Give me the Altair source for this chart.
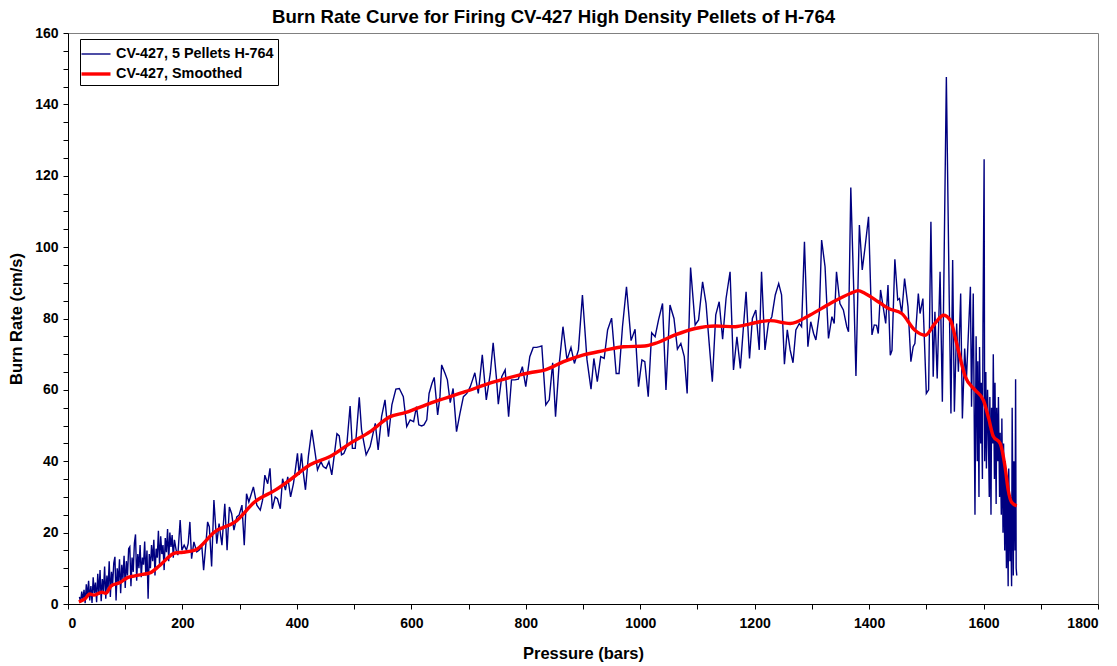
import altair as alt
import pandas as pd

series_names = ["CV-427, 5 Pellets H-764", "CV-427, Smoothed"]

raw_p = [
    20, 22, 24, 26, 28, 30, 32, 34, 36, 38, 40, 42, 44, 46, 48, 50, 52, 54, 56, 58,
    60, 62, 64, 66, 68, 70, 72, 74, 76, 78, 80, 82, 84, 86, 88, 90, 92, 94, 96, 98,
    100, 102, 104, 106, 108, 110, 112, 114, 116, 118, 120, 122, 124, 126, 128, 130,
    132, 134, 136, 138, 140, 142, 144, 146, 148, 150, 152, 154, 156, 158, 160, 162,
    164, 166, 168, 170, 172, 174, 176, 178, 180, 182, 184, 186,
    189, 192, 196, 199, 203, 207, 210, 213, 216, 220, 225, 229, 234, 237, 241, 244,
    247, 251, 255, 260, 264, 269, 274, 278, 282, 286, 290, 295, 299, 304, 308, 312,
    316, 324, 330, 336, 340, 344, 349, 353, 357, 362, 366, 371, 375, 380, 384, 389,
    394, 398,
    401, 404, 408, 411, 415, 420, 426, 432, 436, 442, 446, 451, 456, 461, 465, 470,
    474, 478, 482, 487, 493, 497, 502, 509, 513, 521, 528, 537, 542, 548, 554, 560,
    566, 573, 579, 586, 592, 598, 604,
    609, 613, 618, 622, 627, 631, 636, 640, 646, 650, 653, 659, 663, 668, 673, 679,
    685, 691, 697, 703, 707, 711, 717, 724, 731, 738, 743, 749, 752, 758, 764, 770,
    775, 781, 787, 794, 800, 807,
    813, 819, 824, 828, 835, 841, 847, 852, 858, 865, 872, 879, 885, 892, 899, 907,
    914, 919, 925, 931, 937, 943, 950, 958, 963, 969, 976, 984, 991, 997, 1003, 1008,
    1014, 1020, 1026, 1032, 1039, 1045, 1052, 1059, 1065, 1071, 1077, 1082, 1088,
    1096, 1102, 1109, 1115, 1120, 1126, 1132, 1138, 1144, 1150, 1157, 1163, 1169,
    1175, 1180, 1185, 1191, 1196, 1202, 1208,
    1212, 1218, 1224, 1230, 1236, 1242, 1247, 1252, 1257, 1262, 1267, 1272, 1278,
    1282, 1287, 1293, 1298, 1303, 1307, 1313, 1317, 1323, 1329, 1335, 1339, 1343,
    1349, 1355, 1361, 1364, 1368, 1373, 1377, 1383, 1388, 1393, 1399, 1405, 1409,
    1413, 1416, 1420, 1425, 1429, 1433, 1437, 1440, 1445, 1450, 1453, 1457, 1462,
    1468, 1473, 1477, 1480, 1486, 1489, 1494, 1500, 1504, 1508, 1512, 1515, 1519,
    1524, 1528, 1535, 1540, 1543, 1546, 1549, 1553, 1556, 1560, 1563, 1567, 1570,
    1572, 1577, 1579, 1582, 1585,
    1587, 1589, 1590, 1592, 1593, 1595, 1596, 1598, 1599, 1601, 1602, 1604, 1605,
    1607, 1608, 1610, 1611, 1613, 1614, 1616, 1617, 1619, 1620, 1622, 1623, 1625,
    1626, 1628, 1629, 1631, 1632, 1634, 1635, 1637, 1638, 1640, 1641, 1643, 1644,
    1646, 1647, 1649, 1650, 1652, 1653, 1655, 1656, 1657, 1658,
]

raw_r = [
    2.0, 0.5, 3.5, 1.0, 4.0, 0.2, 5.5, 2.0, 6.5, 1.0, 5.0, 0.3, 7.5, 3.0, 6.0, 0.5, 8.5, 2.5, 9.5, 0.8,
    7.0, 3.5, 10.5, 1.5, 8.0, 4.0, 12.0, 2.0, 9.0, 5.5, 11.5, 13.2, 1.0, 10.0, 6.0, 12.5, 3.0, 11.0, 7.0, 13.5,
    4.5, 12.0, 8.0, 15.5, 16.0, 5.0, 13.0, 9.0, 17.0, 19.5, 6.5, 14.0, 10.0, 16.5, 7.5, 13.0,
    11.0, 17.5, 8.0, 15.0, 1.5, 14.0, 10.0, 16.5, 12.0, 18.0, 8.0, 15.5, 13.0, 20.5, 11.0, 19.0,
    14.0, 16.5, 9.5, 18.5, 14.5, 21.0, 12.0, 20.0, 16.0, 19.3, 13.0, 18.0,
    15.1, 13.7, 23.5, 15.1, 16.5, 15.1, 16.9, 23.0, 12.7, 17.4, 14.6, 15.1, 16.0, 9.5, 16.9, 23.0,
    21.6, 10.5, 29.1, 16.9, 22.5, 16.5, 28.1, 15.1, 27.2, 25.3, 20.7, 24.4, 24.9, 27.7, 16.5, 30.9,
    28.6, 32.8, 27.7, 26.3, 29.1, 36.1, 33.7, 38.0, 26.7, 30.0, 29.5, 26.7, 35.1, 31.9, 35.6, 30.0,
    33.7, 38.4,
    42.2, 36.2, 42.2, 37.1, 32.0, 41.3, 48.8, 42.2, 37.6, 39.9, 38.5, 38.0, 39.9, 36.2, 41.3, 47.7,
    47.1, 41.8, 42.2, 44.1, 55.5, 43.6, 43.6, 57.9, 48.8, 41.8, 44.1, 50.6, 43.2, 52.5, 57.2, 46.9,
    55.8, 60.2, 60.4, 58.1, 49.7, 51.6, 51.1,
    55.3, 50.2, 49.9, 50.2, 51.6, 59.0, 61.8, 63.5, 53.0, 58.1, 67.0, 64.6, 62.8, 56.4, 60.4, 48.3,
    53.4, 58.1, 59.0, 60.9, 62.8, 64.8, 59.0, 69.8, 57.2, 64.6, 73.2, 62.8, 56.0, 63.7, 65.6, 52.5,
    62.8, 62.8, 63.0, 66.5, 60.9, 69.3,
    71.9, 71.9, 72.1, 72.3, 55.8, 57.2, 67.6, 52.5, 66.5, 77.7, 68.4, 71.9, 67.4, 71.2, 86.6, 68.4,
    60.2, 68.8, 62.3, 69.3, 68.8, 76.8, 80.1, 64.6, 64.6, 77.7, 88.9, 73.8, 77.0, 60.9, 68.4, 67.9,
    58.1, 76.0, 74.9, 79.6, 84.2, 60.0, 83.8, 80.0, 71.4, 73.0, 69.3, 59.0, 94.3,
    78.2, 79.6, 90.3, 84.2, 74.0, 62.3, 81.0, 84.7, 74.2, 85.6, 93.1, 65.6, 74.9,
    66.0, 76.8, 87.5, 68.8, 80.0, 82.4, 71.2,
    93.1, 71.2, 78.6, 80.5, 86.6, 89.8, 86.6, 67.2, 76.8, 71.2, 67.6, 76.8, 78.6,
    77.7, 101.5, 72.1, 79.1, 75.8, 74.0, 81.4, 102.0, 94.5, 74.4, 80.5, 78.6, 93.1,
    84.2, 82.4, 77.7, 76.3, 116.7, 88.9, 63.9, 106.2, 93.6, 100.1, 108.5, 75.4, 78.2,
    78.1, 75.8, 88.0, 82.8, 78.6, 89.4, 69.7, 71.1, 96.6, 85.2, 85.6, 81.4, 91.2,
    83.3, 67.9, 72.1, 73.0, 87.0, 81.4, 85.6, 59.0, 60.0, 107.1, 63.7, 81.9, 63.2,
    93.1, 56.7, 147.7, 85.6, 53.4, 96.4, 53.9, 78.6, 65.1, 87.0, 52.0, 71.6, 62.7,
    70.2, 88.9, 55.3, 87.0, 25.0,
    75.0, 40.0, 68.0, 30.0, 72.0, 45.0, 62.0, 35.0, 78.0, 124.6, 40.0, 65.0, 38.0,
    60.0, 52.0, 30.0, 58.0, 25.0, 55.0, 45.0, 70.0, 35.0, 62.0, 28.0, 55.0, 40.0,
    58.0, 30.0, 48.0, 25.0, 52.0, 20.0, 45.0, 15.0, 40.0, 10.0, 35.0, 5.0, 38.0,
    12.0, 30.0, 5.0, 55.0, 8.0, 40.0, 15.0, 63.0, 10.0, 8.0,
]

smooth_p = [
    19, 30, 38, 45, 59, 66, 75, 91, 104, 117, 130, 143, 161, 187, 201, 222, 257, 292,
    327, 362, 388, 423, 458, 493, 528, 563, 589, 606, 641, 694, 746, 790, 807, 834,
    866, 901, 936, 971, 1008, 1026, 1061, 1096, 1131, 1166, 1192, 1209, 1227, 1262,
    1297, 1332, 1367, 1381, 1393, 1416, 1434, 1457, 1480, 1498, 1515, 1530, 1542,
    1553, 1568, 1585, 1600, 1609, 1617, 1629, 1638, 1643, 1649, 1658,
]
smooth_r = [
    0.6, 1.5, 2.8, 2.5, 3.3, 3.0, 5.0, 6.0, 7.4, 7.9, 8.3, 8.7, 10.9, 14.3, 14.5, 15.1,
    20.3, 23.0, 28.7, 31.9, 34.8, 39.0, 41.3, 45.0, 48.3, 52.5, 53.6, 54.6, 56.7, 59.5,
    62.3, 64.2, 64.8, 65.6, 67.9, 69.8, 71.0, 72.1, 72.3, 73.0, 75.4, 77.2, 77.9, 77.7,
    78.5, 79.1, 79.4, 78.6, 81.0, 84.2, 87.0, 87.8, 87.0, 84.7, 82.8, 81.4, 76.7, 75.3,
    78.6, 80.9, 79.5, 73.0, 63.7, 60.0, 57.0, 52.0, 47.0, 45.0, 38.0, 32.0, 28.5, 27.5,
]

raw = pd.DataFrame({"p": raw_p, "r": raw_r, "s": series_names[0]})
smooth = pd.DataFrame({"p": smooth_p, "r": smooth_r, "s": series_names[1]})

FONT = "Liberation Sans"
x_ticks = list(range(0, 1801, 100))
y_ticks = list(range(0, 161, 5))

x_enc = alt.X(
    "p:Q",
    scale=alt.Scale(domain=[0, 1800], nice=False, zero=False),
    axis=alt.Axis(
        title="Pressure (bars)",
        values=x_ticks,
        format="d",
        labelExpr="datum.value % 200 == 0 ? datum.label : ''",
        labelPadding=7,
        titlePadding=15,
    ),
)
y_enc = alt.Y(
    "r:Q",
    scale=alt.Scale(domain=[0, 160], nice=False),
    axis=alt.Axis(
        title="Burn Rate (cm/s)",
        values=y_ticks,
        format="d",
        labelExpr="datum.value % 20 == 0 ? datum.label : ''",
        titlePadding=10,
    ),
)
color_enc = alt.Color(
    "s:N",
    scale=alt.Scale(domain=series_names, range=["#000080", "#FF0000"]),
    legend=alt.Legend(title=None),
)
width_enc = alt.StrokeWidth(
    "s:N",
    scale=alt.Scale(domain=series_names, range=[1.4, 3.4]),
    legend=alt.Legend(title=None),
)

blue = alt.Chart(raw).mark_line().encode(x=x_enc, y=y_enc, color=color_enc, strokeWidth=width_enc)
red = alt.Chart(smooth).mark_line(interpolate="monotone").encode(
    x=x_enc, y=y_enc, color=color_enc, strokeWidth=width_enc
)

chart = (
    alt.layer(blue, red)
    .properties(
        width=1030,
        height=571,
        padding={"left": 60, "top": 25, "right": 10, "bottom": 64},
        autosize=alt.AutoSizeParams(type="none"),
        title=alt.TitleParams(
            "Burn Rate Curve for Firing CV-427 High Density Pellets of H-764",
            font=FONT,
            fontSize=18.6,
            fontWeight="bold",
            color="black",
            anchor="middle",
            frame="bounds",
            offset=-1,
        ),
    )
    .configure_view(stroke="#808080", strokeWidth=1)
    .configure_axis(
        grid=False,
        domainColor="black",
        domainWidth=1,
        tickColor="black",
        tickSize=5,
        labelFont=FONT,
        labelFontSize=14,
        labelFontWeight="bold",
        labelColor="black",
        labelPadding=5,
        titleFont=FONT,
        titleFontSize=16.5,
        titleFontWeight="bold",
        titleColor="black",
    )
    .configure_legend(
        orient="none",
        legendX=12,
        legendY=6,
        strokeColor="black",
        fillColor="white",
        padding=4,
        labelFont=FONT,
        labelFontSize=14.4,
        labelFontWeight="bold",
        labelColor="black",
        labelLimit=400,
        labelOffset=8,
        symbolType="M-1.45,0L1.45,0",
        symbolSize=400,
        rowPadding=1,
        cornerRadius=0,
    )
)

chart.save("out.html", embed_options={"renderer": "svg", "actions": False})
